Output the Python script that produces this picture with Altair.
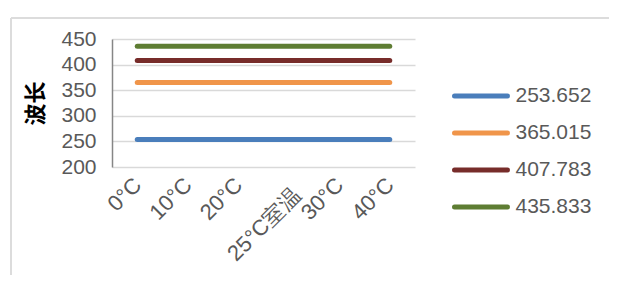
import altair as alt
import pandas as pd

categories = ["0°C", "10°C", "20°C", "25°C室温", "30°C", "40°C"]
series_names = ["253.652", "365.015", "407.783", "435.833"]
values_253 = [253.652, 253.652, 253.652, 253.652, 253.652, 253.652]
values_365 = [365.015, 365.015, 365.015, 365.015, 365.015, 365.015]
values_407 = [407.783, 407.783, 407.783, 407.783, 407.783, 407.783]
values_435 = [435.833, 435.833, 435.833, 435.833, 435.833, 435.833]
colors = ["#4A7EBB", "#F0954A", "#772C2A", "#5E7D33"]
y_ticks = [200, 250, 300, 350, 400, 450]

rows = []
for name, vals in zip(series_names, [values_253, values_365, values_407, values_435]):
    for i, (c, v) in enumerate(zip(categories, vals)):
        rows.append({"温度": c, "系列": name, "波长": v, "order": i})
df = pd.DataFrame(rows)
legend_df = pd.DataFrame({"系列": series_names})

TXT = "#595959"
FONT = "Liberation Sans"
color_scale = alt.Scale(domain=series_names, range=colors)
long_label = "datum.value == '25°C室温'"

lines = alt.Chart(df).mark_line(strokeWidth=5, strokeCap="round").encode(
    x=alt.X("温度:N", sort=categories,
            scale=alt.Scale(type="point", padding=0.5),
            axis=alt.Axis(title=None, labelAngle=-45, labelAlign="right",
                          labelBaseline="middle",
                          labelPadding={"condition": {"test": long_label, "value": 24}, "value": 14},
                          labelOffset={"condition": {"test": long_label, "value": 8}, "value": 0},
                          labelFontSize=22, labelColor=TXT, labelFont=FONT,
                          ticks=False, domain=False, grid=False)),
    y=alt.Y("波长:Q", scale=alt.Scale(domain=[200, 450], nice=False, zero=False),
            axis=alt.Axis(values=y_ticks, title="波长", titleAngle=-90,
                          titleFont="Noto Sans CJK SC", titleFontSize=22,
                          titleFontWeight="bold", titleColor="#000000",
                          titleX=-77, titleY=64, titleAlign="center",
                          titleBaseline="middle",
                          labelFontSize=21, labelColor=TXT, labelFont=FONT,
                          labelPadding=16,
                          ticks=False, domain=True, domainColor="#868686",
                          domainWidth=1.5,
                          grid=True, gridColor="#D9D9D9", gridWidth=1.5)),
    color=alt.Color("系列:N", sort=series_names, scale=color_scale, legend=None),
    detail="系列:N",
    order="order:Q",
)

legend_y = alt.Y("系列:N", sort=series_names,
                 scale=alt.Scale(type="point", range=[57, 168], padding=0), axis=None)

leg_rule = alt.Chart(legend_df).mark_rule(strokeWidth=5, strokeCap="round").encode(
    y=legend_y, x=alt.value(342.5), x2=alt.value(395.5),
    color=alt.Color("系列:N", sort=series_names, scale=color_scale, legend=None),
)
leg_text = alt.Chart(legend_df).mark_text(
    align="left", baseline="middle", fontSize=21, font=FONT, color=TXT
).encode(y=legend_y, x=alt.value(403.5), text="系列:N")

frame_h = alt.Chart(df).mark_rule(color="#DCDCDC", strokeWidth=2).encode(
    x=alt.value(-101), x2=alt.value(520), y=alt.value(-21))
frame_v = alt.Chart(df).mark_rule(color="#DCDCDC", strokeWidth=2).encode(
    x=alt.value(-101), y=alt.value(-21), y2=alt.value(260))

chart = alt.layer(frame_h, frame_v, lines, leg_rule, leg_text).resolve_scale(
    y="independent"
).properties(
    width=303, height=128,
    padding={"left": 104, "top": 31, "right": 194, "bottom": 108},
    autosize=alt.AutoSizeParams(type="none"),
    background="white",
).configure_view(stroke=None)

chart.save("out.html", embed_options={"renderer": "svg", "actions": False})
